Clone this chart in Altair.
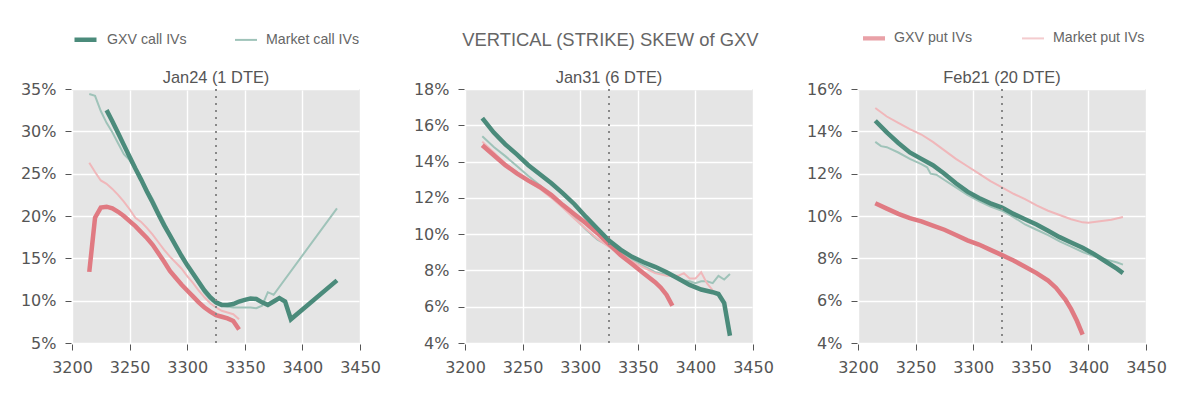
import altair as alt
import pandas as pd

# ---------------- data ----------------
spot = 3325

# Jan24 (1 DTE)
p1_mc_k = [3215, 3220, 3225, 3230, 3235, 3240, 3245, 3250, 3255, 3260, 3265, 3270, 3275, 3280, 3285, 3290, 3295, 3300, 3305, 3310, 3315, 3320, 3325, 3330, 3335, 3340, 3345, 3350, 3355, 3360, 3365, 3370, 3375, 3430]
p1_mc_v = [34.4, 34.2, 32.4, 31.0, 29.9, 28.6, 27.3, 26.6, 25.5, 24.4, 23.2, 22.0, 20.6, 19.3, 17.9, 16.6, 15.4, 14.2, 13.0, 11.9, 10.9, 10.1, 9.6, 9.4, 9.3, 9.2, 9.2, 9.2, 9.2, 9.1, 9.4, 11.0, 10.7, 20.9]
p1_gc_k = [3230, 3235, 3240, 3245, 3250, 3255, 3260, 3265, 3270, 3275, 3280, 3285, 3290, 3295, 3300, 3305, 3310, 3315, 3320, 3325, 3330, 3335, 3340, 3345, 3350, 3355, 3360, 3365, 3370, 3375, 3380, 3385, 3390, 3430]
p1_gc_v = [32.5, 31.2, 29.8, 28.4, 27.0, 25.6, 24.3, 22.9, 21.6, 20.2, 18.9, 17.7, 16.5, 15.3, 14.2, 13.2, 12.2, 11.2, 10.4, 9.8, 9.5, 9.5, 9.6, 9.9, 10.1, 10.25, 10.2, 9.8, 9.5, 9.9, 10.3, 9.9, 7.8, 12.4]
p1_mp_k = [3215, 3220, 3225, 3230, 3235, 3240, 3245, 3250, 3255, 3260, 3265, 3270, 3275, 3280, 3285, 3290, 3295, 3300, 3305, 3310, 3315, 3320, 3325, 3330, 3335, 3340, 3345]
p1_mp_v = [26.3, 25.2, 24.2, 23.8, 23.2, 22.5, 21.7, 20.8, 19.8, 19.3, 18.6, 17.8, 16.9, 16.0, 15.2, 14.5, 13.8, 12.9, 12.1, 11.2, 10.4, 9.7, 9.2, 8.8, 8.6, 8.4, 7.8]
p1_gp_k = [3215, 3220, 3225, 3230, 3235, 3240, 3245, 3250, 3255, 3260, 3265, 3270, 3275, 3280, 3285, 3290, 3295, 3300, 3305, 3310, 3315, 3320, 3325, 3330, 3335, 3340, 3345]
p1_gp_v = [13.4, 19.8, 21.0, 21.1, 20.9, 20.5, 20.0, 19.4, 18.8, 18.1, 17.4, 16.6, 15.6, 14.6, 13.5, 12.7, 11.9, 11.2, 10.5, 9.8, 9.2, 8.7, 8.3, 8.1, 7.9, 7.6, 6.6]

# Jan31 (6 DTE)
p2_gc_k = [3215, 3225, 3235, 3245, 3255, 3265, 3275, 3285, 3295, 3305, 3315, 3325, 3335, 3345, 3355, 3365, 3375, 3385, 3395, 3405, 3415, 3420, 3425, 3430]
p2_gc_v = [16.4, 15.6, 14.95, 14.4, 13.8, 13.3, 12.8, 12.25, 11.65, 10.95, 10.3, 9.65, 9.15, 8.75, 8.45, 8.2, 7.9, 7.55, 7.2, 6.95, 6.8, 6.7, 6.2, 4.4]
p2_mc_k = [3215, 3225, 3235, 3245, 3255, 3265, 3275, 3285, 3295, 3305, 3315, 3325, 3335, 3345, 3355, 3365, 3375, 3385, 3390, 3395, 3400, 3405, 3410, 3415, 3420, 3425, 3430]
p2_mc_v = [15.4, 14.8, 14.3, 13.75, 13.2, 12.7, 12.15, 11.5, 10.9, 10.25, 9.7, 9.35, 8.95, 8.6, 8.25, 7.9, 7.75, 7.6, 7.45, 7.4, 7.3, 7.4, 7.4, 7.3, 7.7, 7.5, 7.8]
p2_mp_k = [3215, 3225, 3235, 3245, 3255, 3265, 3275, 3285, 3295, 3305, 3315, 3325, 3335, 3345, 3355, 3365, 3375, 3385, 3390, 3395, 3400, 3405, 3410, 3415]
p2_mp_v = [15.1, 14.5, 13.9, 13.4, 12.9, 12.5, 12.0, 11.45, 10.85, 10.3, 9.75, 9.3, 8.9, 8.5, 8.15, 7.85, 7.7, 7.7, 7.85, 7.55, 7.55, 7.9, 7.3, 6.9]
p2_gp_k = [3215, 3225, 3235, 3245, 3255, 3265, 3275, 3285, 3295, 3305, 3315, 3325, 3335, 3345, 3355, 3365, 3370, 3375, 3380]
p2_gp_v = [14.9, 14.35, 13.8, 13.35, 12.95, 12.6, 12.15, 11.6, 11.1, 10.6, 10.05, 9.45, 8.85, 8.35, 7.85, 7.35, 7.05, 6.65, 6.05]

# Feb21 (20 DTE)
p3_mp_k = [3215, 3225, 3235, 3245, 3255, 3265, 3275, 3285, 3295, 3305, 3315, 3325, 3335, 3345, 3355, 3365, 3375, 3385, 3395, 3400, 3410, 3420, 3430]
p3_mp_v = [15.1, 14.7, 14.4, 14.1, 13.85, 13.5, 13.1, 12.7, 12.35, 12.0, 11.65, 11.35, 11.05, 10.8, 10.5, 10.25, 10.05, 9.85, 9.7, 9.68, 9.75, 9.82, 9.95]
p3_gc_k = [3215, 3225, 3235, 3245, 3255, 3265, 3275, 3285, 3295, 3305, 3315, 3325, 3335, 3345, 3355, 3365, 3375, 3385, 3395, 3405, 3415, 3425, 3430]
p3_gc_v = [14.5, 13.95, 13.45, 13.0, 12.7, 12.4, 12.0, 11.55, 11.15, 10.85, 10.6, 10.4, 10.1, 9.85, 9.6, 9.3, 9.0, 8.75, 8.5, 8.2, 7.85, 7.5, 7.3]
p3_mc_k = [3215, 3220, 3225, 3235, 3245, 3255, 3260, 3263, 3268, 3275, 3285, 3295, 3305, 3315, 3325, 3335, 3345, 3355, 3365, 3375, 3385, 3395, 3405, 3415, 3425, 3430]
p3_mc_v = [13.5, 13.3, 13.25, 13.0, 12.7, 12.45, 12.3, 12.0, 11.95, 11.7, 11.35, 11.0, 10.7, 10.45, 10.25, 9.95, 9.6, 9.35, 9.1, 8.8, 8.55, 8.3, 8.1, 7.95, 7.8, 7.7]
p3_gp_k = [3215, 3225, 3235, 3245, 3255, 3265, 3275, 3285, 3295, 3305, 3315, 3325, 3335, 3345, 3355, 3365, 3372, 3380, 3385, 3390, 3395]
p3_gp_v = [10.6, 10.35, 10.1, 9.9, 9.75, 9.55, 9.35, 9.1, 8.85, 8.65, 8.4, 8.15, 7.9, 7.6, 7.3, 6.95, 6.6, 6.05, 5.6, 5.05, 4.4]

panels = ["Jan24 (1 DTE)", "Jan31 (6 DTE)", "Feb21 (20 DTE)"]
call_series = ["GXV call IVs", "Market call IVs"]
put_series = ["GXV put IVs", "Market put IVs"]
x_ticks = [3200, 3250, 3300, 3350, 3400, 3450]
y_ticks = [[5, 10, 15, 20, 25, 30, 35], [4, 6, 8, 10, 12, 14, 16, 18], [4, 6, 8, 10, 12, 14, 16]]

series_data = [
    (panels[0], "GXV call IVs", p1_gc_k, p1_gc_v),
    (panels[0], "Market call IVs", p1_mc_k, p1_mc_v),
    (panels[0], "GXV put IVs", p1_gp_k, p1_gp_v),
    (panels[0], "Market put IVs", p1_mp_k, p1_mp_v),
    (panels[1], "GXV call IVs", p2_gc_k, p2_gc_v),
    (panels[1], "Market call IVs", p2_mc_k, p2_mc_v),
    (panels[1], "GXV put IVs", p2_gp_k, p2_gp_v),
    (panels[1], "Market put IVs", p2_mp_k, p2_mp_v),
    (panels[2], "GXV call IVs", p3_gc_k, p3_gc_v),
    (panels[2], "Market call IVs", p3_mc_k, p3_mc_v),
    (panels[2], "GXV put IVs", p3_gp_k, p3_gp_v),
    (panels[2], "Market put IVs", p3_mp_k, p3_mp_v),
]
rows = []
for pan, ser, ks, vs in series_data:
    for k, v in zip(ks, vs):
        rows.append({"panel": pan, "series": ser, "strike": k, "iv": v})
df = pd.DataFrame(rows)

DARK_G = "#4b8b7b"
LIGHT_G = "#9fc3b9"
DARK_R = "#e07a82"
LIGHT_R = "#f0b7ba"
THICK, THIN = 4.5, 2
WIDTH_OF = {"GXV put IVs": THICK, "Market put IVs": THIN}

W, H = 288, 254
TICK_FONT = "DejaVu Sans"
TXT_FONT = "Liberation Sans"

color_scale = alt.Scale(domain=call_series, range=[DARK_G, LIGHT_G])
cwidth_scale = alt.Scale(domain=call_series, range=[THICK, THIN])
stroke_scale = alt.Scale(domain=put_series, range=[DARK_R, LIGHT_R])
# legend glyphs for the put lines: a thick (3 strokes) and a thin (1 stroke) bar
put_glyph_scale = alt.Scale(domain=put_series,
                            range=["M-1,-0.1H1M-1,0H1M-1,0.1H1", "M-1,0H1"])


def make_legend(x, pad, stroke_type=True):
    kw = dict(
        title=None, orient="none", direction="horizontal", legendX=x, legendY=-63,
        symbolSize=484, symbolStrokeWidth=2,
        labelFont=TXT_FONT, labelFontSize=14.2, labelColor="#666", labelOffset=8,
        columnPadding=pad,
    )
    if stroke_type:
        kw["symbolType"] = "stroke"
    return alt.Legend(**kw)


call_legend = make_legend(0, 44)
put_legend = make_legend(790, 45, stroke_type=False)


def panel(i, with_put_key=False):
    name = panels[i]
    yt = y_ticks[i]
    base = alt.Chart(df).transform_filter(alt.datum.panel == name)
    xenc = alt.X("strike:Q", scale=alt.Scale(domain=[3200, 3450], nice=False),
                 axis=alt.Axis(values=x_ticks, title=None, format="d"))
    yenc = alt.Y("iv:Q", scale=alt.Scale(domain=[yt[0], yt[-1]], nice=False),
                 axis=alt.Axis(values=yt, title=None, labelExpr="datum.value + '%'"))

    def call_layer(ser):
        return base.transform_filter(alt.datum.series == ser).mark_line().encode(
            x=xenc, y=yenc, order=alt.Order("strike:Q"),
            color=alt.Color("series:N", scale=color_scale, legend=call_legend),
            strokeWidth=alt.StrokeWidth("series:N", scale=cwidth_scale, legend=call_legend),
        )

    def put_layer(ser):
        return base.transform_filter(alt.datum.series == ser).mark_line(
            strokeWidth=WIDTH_OF[ser]).encode(
            x=xenc, y=yenc, order=alt.Order("strike:Q"),
            stroke=alt.Stroke("series:N", scale=stroke_scale, legend=put_legend),
        )

    rule = alt.Chart(df).mark_rule(color="#888", strokeWidth=2, strokeDash=[2, 5]).encode(
        x=alt.datum(spot)
    )
    layers = [
        call_layer("Market call IVs"),
        put_layer("Market put IVs"),
        put_layer("GXV put IVs"),
        call_layer("GXV call IVs"),
        rule,
    ]
    if with_put_key:
        # no rows pass this filter: it only supplies the legend glyphs for the put series
        key = base.transform_filter("false").mark_point().encode(
            x=xenc, y=yenc,
            stroke=alt.Stroke("series:N", scale=stroke_scale, legend=put_legend),
            shape=alt.Shape("series:N", scale=put_glyph_scale, legend=put_legend),
        )
        layers.append(key)
    return alt.layer(*layers).properties(
        width=W, height=H,
        title=alt.TitleParams(name, font=TXT_FONT, fontSize=16.4, color="#555",
                              fontWeight="normal", offset=-5),
    )


chart = alt.hconcat(
    panel(0), panel(1), panel(2, with_put_key=True),
    spacing=105, bounds="flush",
).properties(
    title=alt.TitleParams("VERTICAL (STRIKE) SKEW of GXV", font=TXT_FONT, fontSize=18.4,
                          color="#666", fontWeight="normal", anchor="middle", offset=-23,
                          dx=17),
    padding={"left": 12, "top": 18, "right": 5, "bottom": 5},
).configure_view(
    fill="#e5e5e5", stroke=None,
).configure_axis(
    domain=False, grid=True, gridColor="white", gridWidth=1.4,
    ticks=True, tickColor="#555", tickSize=6, tickWidth=1, offset=1,
    labelFont=TICK_FONT, labelFontSize=16, labelColor="#555", labelPadding=9,
    labelFlush=False, labelOverlap=False,
).configure_axisX(labelPadding=9)

chart.save("out.html", embed_options={"renderer": "svg", "actions": False})
